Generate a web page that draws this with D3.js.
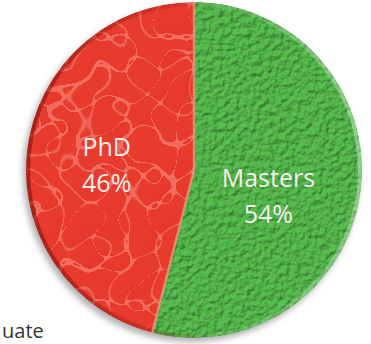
<!DOCTYPE html>
<html>
<head>
<meta charset="utf-8">
<script src="https://cdn.jsdelivr.net/npm/d3@7"></script>
<style>
  html, body { margin: 0; padding: 0; background: #ffffff; overflow: hidden; }
  svg { display: block; }
</style>
</head>
<body>
<svg id="chart" width="371" height="344"></svg>
<script>
// Degree share
const categories = ["Masters", "PhD"];
const values = [54, 46];
const sliceColors = ["#52b24a", "#e6392d"];
const textures = ["bumpGreen", "crackRed"];

const width = 371, height = 344;
const cx = 194, cy = 170, radius = 168;

const svg = d3.select("#chart");
const defs = svg.append("defs");

// Fine pebbled texture for the green slice
const fg = defs.append("filter").attr("id", "bumpGreen")
  .attr("x", 0).attr("y", 0).attr("width", 1).attr("height", 1);
fg.append("feTurbulence").attr("type", "fractalNoise").attr("baseFrequency", 0.18)
  .attr("numOctaves", 3).attr("seed", 7).attr("result", "noise");
const lg = fg.append("feDiffuseLighting").attr("in", "noise").attr("surfaceScale", 3.5)
  .attr("diffuseConstant", 1).attr("lighting-color", "#ffffff").attr("result", "light");
lg.append("feDistantLight").attr("azimuth", 235).attr("elevation", 50);
fg.append("feComposite").attr("in", "light").attr("in2", "SourceGraphic")
  .attr("operator", "arithmetic").attr("k1", 0.8).attr("k2", 0).attr("k3", 0.4).attr("k4", 0)
  .attr("result", "lit");
fg.append("feComposite").attr("in", "lit").attr("in2", "SourceGraphic").attr("operator", "in");

// Cracked-leather texture for the red slice: thin pale veins over a softly lit surface
const fr = defs.append("filter").attr("id", "crackRed")
  .attr("x", 0).attr("y", 0).attr("width", 1).attr("height", 1);
fr.append("feTurbulence").attr("type", "turbulence").attr("baseFrequency", 0.03)
  .attr("numOctaves", 1).attr("seed", 4).attr("result", "noise");
fr.append("feColorMatrix").attr("in", "noise").attr("type", "matrix")
  .attr("values", "0 0 0 0 0  0 0 0 0 0  0 0 0 0 0  1 0 0 0 0").attr("result", "height");
const veinTable = [0.42].concat(d3.range(29).map(() => 0)).join(" ");
const veins = fr.append("feComponentTransfer").attr("in", "height").attr("result", "veinMask");
veins.append("feFuncA").attr("type", "table").attr("tableValues", veinTable);
fr.append("feFlood").attr("flood-color", "#ff9483").attr("result", "veinColor");
fr.append("feComposite").attr("in", "veinColor").attr("in2", "veinMask").attr("operator", "in").attr("result", "veinLines");
fr.append("feGaussianBlur").attr("in", "veinLines").attr("stdDeviation", 0.6).attr("result", "veinSoft");
const lr = fr.append("feDiffuseLighting").attr("in", "height").attr("surfaceScale", 1.2)
  .attr("diffuseConstant", 1).attr("lighting-color", "#ffffff").attr("result", "light");
lr.append("feDistantLight").attr("azimuth", 235).attr("elevation", 60);
fr.append("feComposite").attr("in", "light").attr("in2", "SourceGraphic")
  .attr("operator", "arithmetic").attr("k1", 0.15).attr("k2", 0).attr("k3", 0.88).attr("k4", 0)
  .attr("result", "lit");
const mr = fr.append("feMerge").attr("result", "merged");
mr.append("feMergeNode").attr("in", "lit");
mr.append("feMergeNode").attr("in", "veinSoft");
fr.append("feComposite").attr("in", "merged").attr("in2", "SourceGraphic").attr("operator", "in");

// Soft drop shadow under the disc
const fs = defs.append("filter").attr("id", "shadow")
  .attr("x", "-20%").attr("y", "-20%").attr("width", "140%").attr("height", "140%");
fs.append("feGaussianBlur").attr("stdDeviation", 3);

// Rim: darker on the left, paler on the right
const rim = defs.append("linearGradient").attr("id", "rim")
  .attr("x1", "0%").attr("y1", "50%").attr("x2", "100%").attr("y2", "50%");
rim.append("stop").attr("offset", "0%").attr("stop-color", "#7a0a05").attr("stop-opacity", 0.55);
rim.append("stop").attr("offset", "45%").attr("stop-color", "#7a0a05").attr("stop-opacity", 0.15);
rim.append("stop").attr("offset", "60%").attr("stop-color", "#ffffff").attr("stop-opacity", 0.08);
rim.append("stop").attr("offset", "100%").attr("stop-color", "#ffffff").attr("stop-opacity", 0.35);

const data = categories.map((name, i) => ({ name, value: values[i], color: sliceColors[i], texture: textures[i] }));

const pie = d3.pie().value(d => d.value).sort(null);
const arc = d3.arc().innerRadius(0).outerRadius(radius);

const g = svg.append("g").attr("transform", `translate(${cx},${cy})`);

g.append("circle")
  .attr("cx", -3).attr("cy", 4).attr("r", radius)
  .attr("fill", "#7a7a7a").attr("opacity", 0.6)
  .attr("filter", "url(#shadow)");

const arcs = pie(data);

g.selectAll("path.slice")
  .data(arcs)
  .join("path")
  .attr("class", "slice")
  .attr("d", arc)
  .attr("fill", d => d.data.color)
  .attr("filter", d => `url(#${d.data.texture})`);

// Rim shading
g.append("circle").attr("r", radius - 2).attr("fill", "none")
  .attr("stroke", "url(#rim)").attr("stroke-width", 4);

// Highlight along the seam between the slices
g.selectAll("line.seam")
  .data(arcs)
  .join("line")
  .attr("class", "seam")
  .attr("x1", 0).attr("y1", 0)
  .attr("x2", d => radius * Math.sin(d.endAngle))
  .attr("y2", d => -radius * Math.cos(d.endAngle))
  .attr("stroke", "#f3937f").attr("stroke-width", 2.5).attr("opacity", 0.75);

// Slice labels
const labelRadius = { Masters: 75, PhD: 88 };
const labels = g.selectAll("text.label")
  .data(arcs)
  .join("text")
  .attr("class", "label")
  .attr("text-anchor", "middle")
  .attr("font-family", "'Open Sans', sans-serif")
  .attr("font-size", 25)
  .attr("fill", "#f2eeec")
  .attr("transform", d => {
    const r = labelRadius[d.data.name];
    const a = (d.startAngle + d.endAngle) / 2;
    return `translate(${r * Math.sin(a)},${-r * Math.cos(a)})`;
  });
labels.append("tspan").attr("x", 0).attr("y", d => d.data.name === "PhD" ? -3 : 8).text(d => d.data.name);
labels.append("tspan").attr("x", 0).attr("y", d => d.data.name === "PhD" ? 33 : 44)
  .text(d => Math.round(100 * d.data.value / d3.sum(values)) + "%");

// Caption fragment at the lower left
svg.append("text")
  .attr("x", 2).attr("y", 338)
  .attr("font-family", "'Open Sans', sans-serif")
  .attr("font-size", 20)
  .attr("fill", "#333")
  .text("uate");
</script>
</body>
</html>
